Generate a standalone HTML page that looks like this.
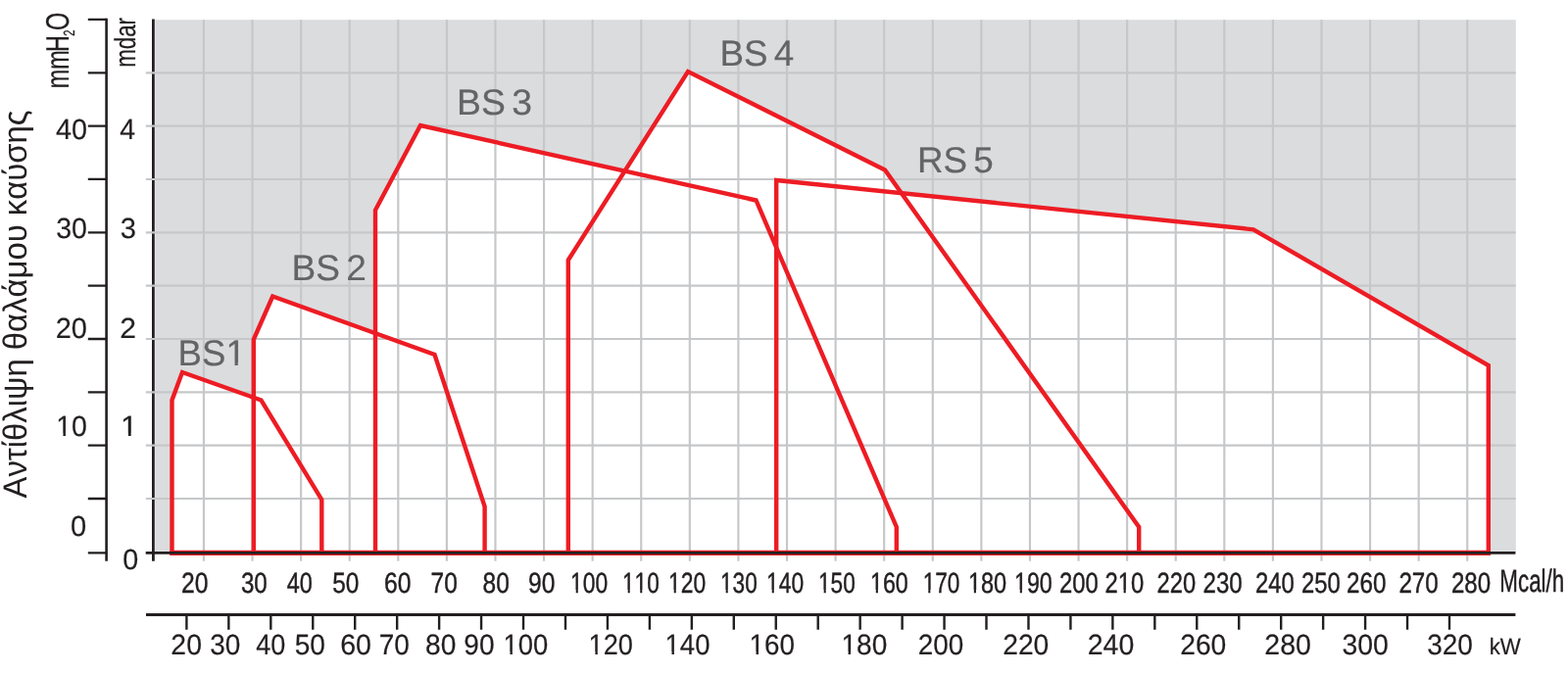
<!DOCTYPE html>
<html lang="el"><head><meta charset="utf-8"><title>Αντίθλιψη θαλάμου καύσης</title>
<style>html,body{margin:0;padding:0;background:#fff}body{width:1600px;height:688px;overflow:hidden}svg{display:block}text{font-family:"Liberation Sans",sans-serif;font-kerning:none;text-rendering:geometricPrecision}</style>
</head><body>
<svg width="1600" height="688" viewBox="0 0 1600 688" role="img" aria-label="Αντίθλιψη θαλάμου καύσης">
<defs><clipPath id="c0"><rect x="-40" y="-30.71" width="149.94" height="27.69"/><rect x="-40.000" y="-30.71" width="88.635" height="39.75"/><rect x="58.662" y="-30.71" width="3.270" height="39.75"/><rect x="70.676" y="-30.71" width="39.259" height="39.75"/></clipPath><clipPath id="c1"><rect x="-40" y="-24.32" width="112.59" height="21.30"/><rect x="-40.000" y="-24.32" width="39.428" height="31.47"/><rect x="7.368" y="-24.32" width="2.590" height="31.47"/><rect x="16.882" y="-24.32" width="55.709" height="31.47"/></clipPath><clipPath id="c2"><rect x="-40" y="-24.32" width="128.89" height="21.30"/><rect x="-40.000" y="-24.32" width="39.428" height="31.47"/><rect x="7.368" y="-24.32" width="2.590" height="31.47"/><rect x="23.663" y="-24.32" width="2.590" height="31.47"/><rect x="33.177" y="-24.32" width="55.709" height="31.47"/></clipPath><clipPath id="c3"><rect x="-40" y="-24.32" width="128.89" height="21.30"/><rect x="-40.000" y="-24.32" width="55.723" height="31.47"/><rect x="23.663" y="-24.32" width="2.590" height="31.47"/><rect x="33.177" y="-24.32" width="55.709" height="31.47"/></clipPath></defs>
<rect width="1600" height="688" fill="#fff"/>
<rect x="158.3" y="20.2" width="1388.5" height="544.2" fill="#dbdcde"/>
<g fill="#fff">
<polygon points="175.5,564.4 175.5,408.5 186,380 266.5,408.5 328.3,510 328.3,564.4"/>
<polygon points="258.8,564.4 258.8,346.5 278.2,302.5 443.5,362 494.6,517 494.6,564.4"/>
<polygon points="383,564.4 383,214.5 429,128 771.5,204.5 914.8,538 914.8,564.4"/>
<polygon points="579.8,564.4 579.8,265.5 702,73 903,173.5 1162.2,538 1162.2,564.4"/>
<polygon points="792.2,564.4 792.2,184 1279,234.3 1518.8,373 1518.8,564.4"/>
</g>
<g stroke="#231f20" fill="none">
<path d="M156.4 19.6V572.7" stroke-width="2.8"/>
<path d="M108.6 18.8V572.7" stroke-width="2.6"/>
<path d="M89.8 19.80H108.6M89.8 74.30H108.6M89.8 128.64H108.6M89.8 182.97H108.6M89.8 237.31H108.6M89.8 291.65H108.6M89.8 345.99H108.6M89.8 400.32H108.6M89.8 454.66H108.6M89.8 509.00H108.6M89.8 564.3H108.6" stroke-width="2.3"/>
</g>
<path d="M207.94 20.2V572.7M257.53 20.2V572.7M307.12 20.2V572.7M356.71 20.2V572.7M406.30 20.2V572.7M455.88 20.2V572.7M505.47 20.2V572.7M555.06 20.2V572.7M604.65 20.2V572.7M654.24 20.2V572.7M703.83 20.2V572.7M753.42 20.2V572.7M803.01 20.2V572.7M852.60 20.2V572.7M902.18 20.2V572.7M951.77 20.2V572.7M1001.36 20.2V572.7M1050.95 20.2V572.7M1100.54 20.2V572.7M1150.13 20.2V572.7M1199.72 20.2V572.7M1249.31 20.2V572.7M1298.89 20.2V572.7M1348.48 20.2V572.7M1398.07 20.2V572.7M1447.66 20.2V572.7M1497.25 20.2V572.7M148.8 74.30H1546.8M148.8 128.64H1546.8M148.8 182.97H1546.8M148.8 237.31H1546.8M148.8 291.65H1546.8M148.8 345.99H1546.8M148.8 400.32H1546.8M148.8 454.66H1546.8M148.8 509.00H1546.8" stroke="#c6c7c9" stroke-width="2.15" fill="none"/>
<g fill="#636466" stroke="#636466" stroke-width="0.2" stroke-linejoin="round">
<text transform="translate(181.60 373.00) scale(0.9882 1)" font-size="37" clip-path="url(#c0)">BS1</text>
<text transform="translate(297.56 286.00) scale(1.0011 1)" font-size="37" word-spacing="-4">BS 2</text>
<text transform="translate(466.04 117.00) scale(1.0090 1)" font-size="37" word-spacing="-4">BS 3</text>
<text transform="translate(734.39 67.00) scale(0.9931 1)" font-size="37" word-spacing="-4">BS 4</text>
<text transform="translate(935.88 176.00) scale(0.9950 1)" font-size="37" word-spacing="-4">RS 5</text>
</g>
<g stroke="#ed1c24" stroke-width="4.4" fill="none" stroke-linejoin="miter" stroke-miterlimit="10">
<polygon points="175.5,564.4 175.5,408.5 186,380 266.5,408.5 328.3,510 328.3,564.4"/>
<polygon points="258.8,564.4 258.8,346.5 278.2,302.5 443.5,362 494.6,517 494.6,564.4"/>
<polygon points="383,564.4 383,214.5 429,128 771.5,204.5 914.8,538 914.8,564.4"/>
<polygon points="579.8,564.4 579.8,265.5 702,73 903,173.5 1162.2,538 1162.2,564.4"/>
<polygon points="792.2,564.4 792.2,184 1279,234.3 1518.8,373 1518.8,564.4"/>
<path d="M173.3 564.4H1521" stroke-width="5.2"/>
</g>
<g stroke="#231f20" fill="none">
<path d="M148.7 564.4H1546.4" stroke-width="2.6"/>
<path d="M149 627.6H1546.4" stroke-width="3"/>
<path d="M190.40 627V642.7M233.35 627V642.7M276.31 627V642.7M319.26 627V642.7M362.21 627V642.7M405.17 627V642.7M448.12 627V642.7M491.07 627V642.7M534.03 627V642.7M576.98 627V642.7M619.93 627V642.7M662.89 627V642.7M705.84 627V642.7M748.79 627V642.7M791.75 627V642.7M834.70 627V642.7M877.65 627V642.7M920.61 627V642.7M963.56 627V642.7M1006.51 627V642.7M1049.47 627V642.7M1092.42 627V642.7M1135.37 627V642.7M1178.33 627V642.7M1221.28 627V642.7M1264.23 627V642.7M1307.19 627V642.7M1350.14 627V642.7M1393.09 627V642.7M1436.05 627V642.7M1479.00 627V642.7" stroke-width="2.4"/>
</g>
<g fill="#231f20" stroke="#231f20" stroke-width="0.2" stroke-linejoin="round">
<text transform="translate(56.94 142.00) scale(0.9814 1)" font-size="29.3">40</text>
<text transform="translate(57.21 243.00) scale(0.9726 1)" font-size="29.3">30</text>
<text transform="translate(56.74 345.00) scale(0.9876 1)" font-size="29.3">20</text>
<text transform="translate(57.26 445.00) scale(0.9711 1)" font-size="29.3" clip-path="url(#c1)">10</text>
<text transform="translate(71.96 547.00) scale(0.9924 1)" font-size="29.3">0</text>
<text transform="translate(122.35 142.00) scale(0.9685 1)" font-size="29.3">4</text>
<text transform="translate(122.79 243.00) scale(0.9934 1)" font-size="29.3">3</text>
<text transform="translate(122.19 345.00) scale(1.0264 1)" font-size="29.3">2</text>
<text transform="translate(122.96 445.00) scale(1.0786 1)" font-size="29.3" clip-path="url(#c1)">1</text>
<text transform="translate(125.18 581.00) scale(0.9781 1)" font-size="29.3">0</text>
<text transform="translate(184.96 605.00) scale(0.8408 1)" font-size="29.3" stroke-width="0.45" vector-effect="non-scaling-stroke">20</text>
<text transform="translate(245.88 605.00) scale(0.8243 1)" font-size="29.3" stroke-width="0.45" vector-effect="non-scaling-stroke">30</text>
<text transform="translate(292.66 605.00) scale(0.7994 1)" font-size="29.3" stroke-width="0.45" vector-effect="non-scaling-stroke">40</text>
<text transform="translate(339.22 605.00) scale(0.8324 1)" font-size="29.3" stroke-width="0.45" vector-effect="non-scaling-stroke">50</text>
<text transform="translate(391.95 605.00) scale(0.8412 1)" font-size="29.3" stroke-width="0.45" vector-effect="non-scaling-stroke">60</text>
<text transform="translate(439.55 605.00) scale(0.8349 1)" font-size="29.3" stroke-width="0.45" vector-effect="non-scaling-stroke">70</text>
<text transform="translate(492.54 605.00) scale(0.8352 1)" font-size="29.3" stroke-width="0.45" vector-effect="non-scaling-stroke">80</text>
<text transform="translate(539.05 605.00) scale(0.8380 1)" font-size="29.3" stroke-width="0.45" vector-effect="non-scaling-stroke">90</text>
<text transform="translate(582.00 605.00) scale(0.7791 1)" font-size="29.3" clip-path="url(#c1)" stroke-width="0.45" vector-effect="non-scaling-stroke">100</text>
<text transform="translate(635.03 605.00) scale(0.7702 1)" font-size="29.3" clip-path="url(#c2)" stroke-width="0.45" vector-effect="non-scaling-stroke">110</text>
<text transform="translate(682.00 605.00) scale(0.7791 1)" font-size="29.3" clip-path="url(#c1)" stroke-width="0.45" vector-effect="non-scaling-stroke">120</text>
<text transform="translate(735.03 605.00) scale(0.7702 1)" font-size="29.3" clip-path="url(#c1)" stroke-width="0.45" vector-effect="non-scaling-stroke">130</text>
<text transform="translate(782.00 605.00) scale(0.7791 1)" font-size="29.3" clip-path="url(#c1)" stroke-width="0.45" vector-effect="non-scaling-stroke">140</text>
<text transform="translate(835.03 605.00) scale(0.7702 1)" font-size="29.3" clip-path="url(#c1)" stroke-width="0.45" vector-effect="non-scaling-stroke">150</text>
<text transform="translate(887.97 605.00) scale(0.7925 1)" font-size="29.3" clip-path="url(#c1)" stroke-width="0.45" vector-effect="non-scaling-stroke">160</text>
<text transform="translate(941.63 605.00) scale(0.7702 1)" font-size="29.3" clip-path="url(#c1)" stroke-width="0.45" vector-effect="non-scaling-stroke">170</text>
<text transform="translate(987.94 605.00) scale(0.8014 1)" font-size="29.3" clip-path="url(#c1)" stroke-width="0.45" vector-effect="non-scaling-stroke">180</text>
<text transform="translate(1034.97 605.00) scale(0.7925 1)" font-size="29.3" clip-path="url(#c1)" stroke-width="0.45" vector-effect="non-scaling-stroke">190</text>
<text transform="translate(1081.00 605.00) scale(0.8127 1)" font-size="29.3" stroke-width="0.45" vector-effect="non-scaling-stroke">200</text>
<text transform="translate(1127.40 605.00) scale(0.8127 1)" font-size="29.3" clip-path="url(#c3)" stroke-width="0.45" vector-effect="non-scaling-stroke">210</text>
<text transform="translate(1180.61 605.00) scale(0.8083 1)" font-size="29.3" stroke-width="0.45" vector-effect="non-scaling-stroke">220</text>
<text transform="translate(1227.59 605.00) scale(0.8213 1)" font-size="29.3" stroke-width="0.45" vector-effect="non-scaling-stroke">230</text>
<text transform="translate(1281.00 605.00) scale(0.8127 1)" font-size="29.3" stroke-width="0.45" vector-effect="non-scaling-stroke">240</text>
<text transform="translate(1328.00 605.00) scale(0.8127 1)" font-size="29.3" stroke-width="0.45" vector-effect="non-scaling-stroke">250</text>
<text transform="translate(1373.98 605.00) scale(0.8256 1)" font-size="29.3" stroke-width="0.45" vector-effect="non-scaling-stroke">260</text>
<text transform="translate(1427.38 605.00) scale(0.8256 1)" font-size="29.3" stroke-width="0.45" vector-effect="non-scaling-stroke">270</text>
<text transform="translate(1480.99 605.00) scale(0.8213 1)" font-size="29.3" stroke-width="0.45" vector-effect="non-scaling-stroke">280</text>
<text transform="translate(1530.36 604.00) scale(0.6883 1)" font-size="32.5" stroke-width="0.45" vector-effect="non-scaling-stroke">Mcal/h</text>
<text transform="translate(174.37 668.00) scale(0.9676 1)" font-size="29.3">20</text>
<text transform="translate(214.13 668.00) scale(0.9561 1)" font-size="29.3">30</text>
<text transform="translate(261.18 668.00) scale(0.9229 1)" font-size="29.3">40</text>
<text transform="translate(300.68 668.00) scale(0.9580 1)" font-size="29.3">50</text>
<text transform="translate(347.15 668.00) scale(0.9747 1)" font-size="29.3">60</text>
<text transform="translate(386.77 668.00) scale(0.9551 1)" font-size="29.3">70</text>
<text transform="translate(433.98 668.00) scale(0.9611 1)" font-size="29.3">80</text>
<text transform="translate(473.28 668.00) scale(0.9577 1)" font-size="29.3">90</text>
<text transform="translate(513.56 668.00) scale(0.9349 1)" font-size="29.3" clip-path="url(#c1)">100</text>
<text transform="translate(600.59 668.00) scale(0.9260 1)" font-size="29.3" clip-path="url(#c1)">120</text>
<text transform="translate(678.55 668.00) scale(0.9394 1)" font-size="29.3" clip-path="url(#c1)">140</text>
<text transform="translate(764.53 668.00) scale(0.9483 1)" font-size="29.3" clip-path="url(#c1)">160</text>
<text transform="translate(858.50 668.00) scale(0.9572 1)" font-size="29.3" clip-path="url(#c1)">180</text>
<text transform="translate(936.80 668.00) scale(0.9510 1)" font-size="29.3">200</text>
<text transform="translate(1023.18 668.00) scale(0.9640 1)" font-size="29.3">220</text>
<text transform="translate(1109.77 668.00) scale(0.9726 1)" font-size="29.3">240</text>
<text transform="translate(1204.18 668.00) scale(0.9640 1)" font-size="29.3">260</text>
<text transform="translate(1290.37 668.00) scale(0.9726 1)" font-size="29.3">280</text>
<text transform="translate(1369.52 668.00) scale(0.9694 1)" font-size="29.3">300</text>
<text transform="translate(1456.13 668.00) scale(0.9566 1)" font-size="29.3">320</text>
<text transform="translate(1519.70 668.00) scale(0.9483 1)" font-size="23.5">kW</text>
<text transform="rotate(-90) scale(0.71 1)" font-size="33"><tspan x="-127.29" y="70.3" font-size="33">mm</tspan><tspan x="-74.60" y="70.3" font-size="33">H</tspan><tspan x="-51.70" y="76.0" font-size="16">2</tspan><tspan x="-43.67" y="70.3" font-size="33">O</tspan></text>
<text transform="rotate(-90) translate(-68.78 137.50) scale(0.7425 1)" font-size="30">mdar</text>
<text transform="translate(27.2 508.5) rotate(-90)" font-size="34" stroke="none" textLength="396" lengthAdjust="spacingAndGlyphs">Αντίθλιψη θαλάμου καύσης</text>
</g>
</svg>
</body></html>
